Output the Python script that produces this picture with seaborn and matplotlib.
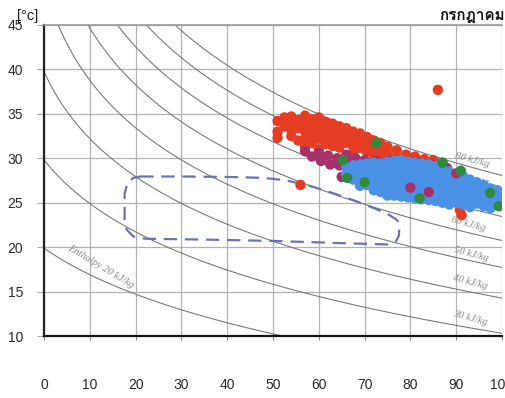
import numpy as np
import pandas as pd
import matplotlib
matplotlib.use("Agg")
import matplotlib.pyplot as plt
import seaborn as sns
from matplotlib import font_manager as fm
from matplotlib.ft2font import FT2Font

# ---------------- data ----------------
x_ticks = [0, 10, 20, 30, 40, 50, 60, 70, 80, 90, 100]
y_ticks = [10, 15, 20, 25, 30, 35, 40, 45]
enthalpy_levels = [20, 30, 40, 50, 60, 70, 80, 90]
right_label_levels = ["80 kJ/kg", "70 kJ/kg", "60 kJ/kg", "50 kJ/kg", "40 kJ/kg", "30 kJ/kg"]
right_label_rh = [93.4, 94.8, 92.6, 93.2, 93.0, 93.0]
right_label_t = [29.8, 27.3, 22.6, 19.2, 16.0, 12.0]

zone_rh = [21, 30, 40, 48, 53, 58, 63, 68, 72, 75.5, 77.2, 77.6, 77.5, 76.8, 75, 65, 50, 35, 22,
           19.5, 18.0, 17.6, 17.6, 18.2, 19.5, 21]
zone_t = [27.95, 27.95, 27.9, 27.8, 27.5, 26.9, 26.1, 25.2, 24.4, 23.6, 23.0, 22.4, 21.3, 20.6,
          20.3, 20.45, 20.7, 20.85, 20.95, 21.2, 22.0, 23.0, 26.0, 27.2, 27.8, 27.95]

red_points = [
    (51, 34.2), (51, 33.0), (51, 32.3), (52.5, 34.6), (52.5, 33.6),
    (54, 34.7), (54, 34.0), (54, 33.2), (54, 32.5), (55.5, 34.3), (55.5, 33.4), (55.5, 32.0),
    (57, 34.8), (57, 33.9), (57, 33.0), (57, 32.2), (57, 31.3),
    (58.5, 34.4), (58.5, 33.5), (58.5, 32.6), (58.5, 31.7),
    (60, 34.6), (60, 33.8), (60, 33.0), (60, 32.2), (60, 31.0),
    (61.5, 34.1), (61.5, 33.3), (61.5, 32.5), (61.5, 31.6),
    (63, 33.9), (63, 33.1), (63, 32.3), (63, 31.4),
    (64.5, 33.6), (64.5, 32.8), (64.5, 32.0), (64.5, 31.2),
    (66, 33.4), (66, 32.6), (66, 31.8), (67.5, 33.0), (67.5, 32.2), (67.5, 31.4), (67.5, 30.6),
    (69, 32.8), (69, 32.0), (69, 31.2), (70.5, 32.4), (70.5, 31.6), (70.5, 30.8),
    (72, 32.0), (72, 31.2), (72, 30.4), (73.5, 31.7), (73.5, 30.9), (73.5, 30.1),
    (75, 31.3), (75, 30.5), (77, 30.9), (77, 30.1), (79, 30.4), (79, 29.8),
    (81, 30.2), (83, 29.9), (83, 29.4), (85, 29.8), (87, 29.5),
    (86, 37.7), (56, 27.0), (90.8, 24.2), (91.2, 23.6),
]
purple_points = [
    (57, 30.8), (58.5, 30.2), (60, 30.6), (60.5, 29.7), (62, 30.3), (62.5, 29.3),
    (64, 30.0), (64.5, 29.2), (66, 30.4), (66.5, 29.5), (68, 30.0), (68.5, 29.0),
    (70, 29.8), (71, 29.2), (72.5, 29.7), (74, 29.3), (75.5, 29.7), (77, 29.2),
    (78.5, 29.6), (80, 29.1), (81.5, 29.5), (83, 28.9), (84.5, 29.3), (86, 28.7),
    (88, 28.9), (65, 27.9),
]
blue_points = [
    (66, 29.0), (66, 28.2), (67.5, 29.2), (67.5, 28.4), (67.5, 27.6),
    (69, 29.3), (69, 28.5), (69, 27.7), (69, 26.9), (70.5, 29.4), (70.5, 28.6), (70.5, 27.8), (70.5, 27.0),
    (72, 29.5), (72, 28.7), (72, 27.9), (72, 27.1), (72, 26.4),
    (73.5, 29.4), (73.5, 28.6), (73.5, 27.8), (73.5, 27.0), (73.5, 26.2),
    (75, 29.6), (75, 28.8), (75, 28.0), (75, 27.2), (75, 26.4), (75, 25.8),
    (76.5, 29.7), (76.5, 28.9), (76.5, 28.1), (76.5, 27.3), (76.5, 26.5), (76.5, 25.8),
    (78, 29.8), (78, 29.0), (78, 28.2), (78, 27.4), (78, 26.6), (78, 25.7),
    (79.5, 29.6), (79.5, 28.8), (79.5, 28.0), (79.5, 27.2), (79.5, 26.4), (79.5, 25.6),
    (81, 29.5), (81, 28.7), (81, 27.9), (81, 27.1), (81, 26.3), (81, 25.5),
    (82.5, 29.4), (82.5, 28.6), (82.5, 27.8), (82.5, 27.0), (82.5, 26.2), (82.5, 25.4),
    (84, 29.3), (84, 28.5), (84, 27.7), (84, 26.9), (84, 26.1), (84, 25.3),
    (85.5, 29.1), (85.5, 28.3), (85.5, 27.5), (85.5, 26.7), (85.5, 25.9), (85.5, 25.2),
    (87, 28.8), (87, 28.0), (87, 27.2), (87, 26.4), (87, 25.6), (87, 25.0),
    (88.5, 28.5), (88.5, 27.7), (88.5, 26.9), (88.5, 26.1), (88.5, 25.3), (88.5, 24.8),
    (90, 28.2), (90, 27.4), (90, 26.6), (90, 25.8), (90, 25.0),
    (91.5, 28.0), (91.5, 27.2), (91.5, 26.4), (91.5, 25.6), (91.5, 24.8),
    (93, 27.6), (93, 26.8), (93, 26.0), (93, 25.2), (93, 24.5),
    (94.5, 27.3), (94.5, 26.5), (94.5, 25.7), (94.5, 24.9),
    (96, 27.0), (96, 26.2), (96, 25.4), (96, 24.6),
    (97.5, 26.6), (97.5, 25.8), (97.5, 25.0), (97.5, 24.4),
    (99, 26.4), (99, 25.6), (99, 24.8), (100, 25.7), (100, 25.0),
]
purple_top_points = [(80, 26.7), (84, 26.2), (90, 28.3)]
green_points = [
    (72.5, 31.7), (65.3, 29.8), (87, 29.5), (97.4, 26.1), (82, 25.5),
    (70, 27.3), (66.2, 27.8), (99.3, 24.6), (91, 28.6),
]

series_names = ["red", "purple", "blue", "purple2", "green"]
series_colors = ["#e43d24", "#a8306a", "#4b92e6", "#a8306a", "#2f8a3c"]

rows = []
for name, pts in zip(series_names, [red_points, purple_points, blue_points, purple_top_points, green_points]):
    for rh, t in pts:
        rows.append({"rh": rh, "t": t, "series": name})
df = pd.DataFrame(rows)

# ---------------- style ----------------
sns.set_theme(style="white")
plt.rcParams["font.family"] = ["Liberation Sans", "DejaVu Sans"]

thai_family = None
cands = []
for f in fm.fontManager.ttflist:
    try:
        cm = FT2Font(f.fname).get_charmap()
        if 0x0E01 in cm and 0x0E21 in cm and 0x0E0E in cm:
            cands.append(f)
    except Exception:
        pass
for f in cands:
    if f.weight in ("bold", 700) or "Bold" in f.fname:
        thai_family = f.name
        break
if thai_family is None and cands:
    thai_family = cands[0].name

fig = plt.figure(figsize=(5.05, 3.98), dpi=100)
ax = fig.add_axes([44 / 505, 62 / 398, 458 / 505, 311 / 398])

ax.set_xlim(0, 100)
ax.set_ylim(10, 45)
ax.set_xticks(x_ticks)
ax.set_yticks(y_ticks)
ax.grid(True, color="#b3b3b3", lw=0.9)
ax.set_axisbelow(True)


# enthalpy curves (psychrometric relation)
def psat(T):
    return 0.61078 * np.exp(17.27 * T / (T + 237.3))


def enthalpy(T, rh):
    pv = rh / 100.0 * psat(T)
    w = 0.622 * pv / (101.325 - pv)
    return 1.006 * T + w * (2501 + 1.86 * T)


rh_grid = np.linspace(0, 100, 201)
for h in enthalpy_levels:
    ts = []
    for rh in rh_grid:
        lo, hi = -10.0, 60.0
        for _ in range(60):
            mid = 0.5 * (lo + hi)
            if enthalpy(mid, rh) < h:
                lo = mid
            else:
                hi = mid
        ts.append(0.5 * (lo + hi))
    ax.plot(rh_grid, ts, color="#7a7a7a", lw=0.8, zorder=1.5)

# comfort zone
ax.plot(zone_rh, zone_t, color="#6a72b8", lw=1.6, dashes=(6, 3.5), zorder=2)

# scatter
sns.scatterplot(data=df, x="rh", y="t", hue="series", hue_order=series_names,
                palette=series_colors, s=56, edgecolor="none", linewidth=0,
                legend=False, ax=ax, zorder=3)

# enthalpy labels
for txt, x, y in zip(right_label_levels, right_label_rh, right_label_t):
    ax.text(x, y, txt, fontsize=7.5, color="#8a8a8a", rotation=-15, style="italic",
            family=["Liberation Serif", "DejaVu Serif"], ha="center", va="center", zorder=2.5)
ax.text(12.5, 17.8, "Enthalpy 20 kJ/kg", fontsize=7.5, color="#8a8a8a", rotation=-31,
        style="italic", family=["Liberation Serif", "DejaVu Serif"], ha="center", va="center")

# spines / ticks
ax.spines["right"].set_visible(False)
ax.spines["top"].set_color("#9a9a9a")
ax.spines["top"].set_linewidth(1.2)
ax.spines["left"].set_color("#222222")
ax.spines["left"].set_linewidth(1.6)
ax.spines["bottom"].set_color("#111111")
ax.spines["bottom"].set_linewidth(1.6)
ax.tick_params(axis="x", bottom=True, length=3, width=0.8, color="#888888", pad=27,
               labelsize=10, labelcolor="#2a2a2a")
ax.tick_params(axis="y", left=True, length=5, width=0.8, color="#aaaaaa", pad=10,
               labelsize=10, labelcolor="#2a2a2a")
ax.set_xlabel("")
ax.set_ylabel("")

fig.text(17 / 505, 1 - 16 / 398, "[°c]", fontsize=10.5, color="#222222", ha="left", va="center")
title_family = [thai_family, "DejaVu Sans"] if thai_family else ["DejaVu Sans"]
fig.text(1.0, 1 - 16 / 398, "กรกฎาคม", fontsize=11, fontweight="bold", color="#111111",
         ha="right", va="center", family=title_family)

fig.savefig("out.png", dpi=100)
